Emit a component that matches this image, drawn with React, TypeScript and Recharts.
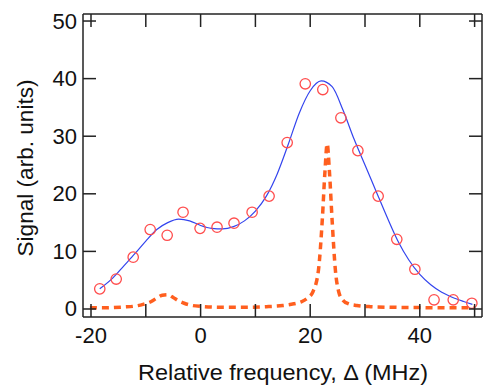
import React from 'react';
import { ComposedChart, Line, Scatter, XAxis, YAxis, Label } from 'recharts';

// measured signal (open circles)
const measX = [-18.4, -15.4, -12.3, -9.2, -6.1, -3.2, -0.1, 3.0, 6.1, 9.4, 12.5, 15.8, 19.1, 22.3, 25.6, 28.7, 32.4, 35.8, 39.1, 42.6, 46.1, 49.5];
const measY = [3.5, 5.2, 9.0, 13.8, 12.8, 16.8, 14.0, 14.2, 14.9, 16.8, 19.6, 28.9, 39.1, 38.1, 33.2, 27.5, 19.6, 12.1, 6.9, 1.6, 1.6, 1.0];

// fitted curve (solid blue)
const fitX = [-18.4, -16, -14, -12, -10, -8, -6, -4, -2, 0, 2, 4, 6, 8, 10, 12, 14, 16, 18, 20, 22, 24, 26, 28, 30, 32, 34, 36, 38, 40, 42, 44, 46, 48, 49.6];
const fitY = [3.5, 5.4, 7.5, 9.6, 11.8, 13.8, 15.0, 15.6, 15.3, 14.5, 14.0, 13.9, 14.3, 15.3, 17.0, 19.6, 23.5, 28.6, 34.0, 37.9, 39.6, 38.6, 34.5, 29.5, 25.0, 20.5, 16.0, 11.8, 8.5, 6.0, 4.2, 2.9, 2.0, 1.3, 0.8];

// narrow resonance (dashed orange)
const peakX = [-20.2, -18, -16, -14, -12, -10.5, -9, -8, -7, -6, -5, -4, -3, -2, 0, 4, 8, 12, 15, 17, 18.5, 19.5, 20.5, 21.5, 22.2, 22.7, 23.1, 23.5, 24.0, 24.6, 25.2, 26, 27, 28.5, 31, 35, 40, 45, 50];
const peakY = [0.2, 0.2, 0.25, 0.35, 0.5, 0.8, 1.3, 1.9, 2.4, 2.5, 2.0, 1.4, 1.0, 0.7, 0.45, 0.3, 0.3, 0.4, 0.6, 0.9, 1.3, 1.9, 3.0, 6.7, 15.4, 24, 28.7, 24, 15.4, 6.7, 3.0, 1.5, 0.9, 0.6, 0.4, 0.3, 0.25, 0.2, 0.2];

const xTicks = [-20, -10, 0, 10, 20, 30, 40, 50];
const xLabelled = [-20, 0, 20, 40];
const yTicks = [0, 10, 20, 30, 40, 50];

const meas = measX.map((x, i) => ({ x, y: measY[i] }));
const fit = fitX.map((x, i) => ({ x, y: fitY[i] }));
const peak = peakX.map((x, i) => ({ x, y: peakY[i] }));

const FONT = '"Liberation Sans", Arial, sans-serif';
const INK = '#222';
const TICK = 13;

function BottomTick({ x, y, payload }: any) {
  return (
    <g>
      <line x1={x} y1={y} x2={x} y2={y - TICK} stroke={INK} strokeWidth={1.5} />
      {xLabelled.includes(payload.value) && (
        <text x={x} y={y + 26} textAnchor="middle" fontSize={22} fontFamily={FONT} fill="#111">
          {payload.value}
        </text>
      )}
    </g>
  );
}

function TopTick({ x, y }: any) {
  return <line x1={x} y1={y} x2={x} y2={y + TICK} stroke={INK} strokeWidth={1.5} />;
}

function LeftTick({ x, y, payload }: any) {
  return (
    <g>
      <line x1={x} y1={y} x2={x + TICK} y2={y} stroke={INK} strokeWidth={1.5} />
      <text x={x - 6} y={y + 7.5} textAnchor="end" fontSize={22} fontFamily={FONT} fill="#111">
        {payload.value}
      </text>
    </g>
  );
}

function RightTick({ x, y }: any) {
  return <line x1={x} y1={y} x2={x - TICK} y2={y} stroke={INK} strokeWidth={1.5} />;
}

const ring = (props: any) => (
  <circle cx={props.cx} cy={props.cy} r={5.2} fill="none" stroke="#ff4d4d" strokeWidth={1.3} />
);

export default function App() {
  const xDomain = [-21.46, 51.35];
  const yDomain = [-1.39, 51.22];
  return (
    <div style={{ position: 'absolute', left: 0, top: 0, background: '#fff' }}>
      <ComposedChart width={483} height={387} margin={{ top: 13, right: 0, bottom: 0, left: 0 }}>
        <XAxis
          xAxisId="b"
          type="number"
          dataKey="x"
          domain={xDomain}
          allowDataOverflow
          ticks={xTicks}
          interval={0}
          height={70}
          tickSize={0}
          tickMargin={0}
          tick={<BottomTick />}
          axisLine={{ stroke: INK, strokeWidth: 1.5 }}
        >
          <Label
            content={() => (
              <text
                x={283}
                y={380}
                textAnchor="middle"
                fontSize={22}
                fontFamily={FONT}
                fill="#111"
                textLength={290}
                lengthAdjust="spacingAndGlyphs"
              >
                Relative frequency, Δ (MHz)
              </text>
            )}
          />
        </XAxis>
        <XAxis
          xAxisId="t"
          orientation="top"
          type="number"
          dataKey="x"
          domain={xDomain}
          allowDataOverflow
          ticks={xTicks}
          interval={0}
          height={1}
          tickSize={0}
          tickMargin={0}
          tick={<TopTick />}
          axisLine={{ stroke: INK, strokeWidth: 1.5 }}
        />
        <YAxis
          yAxisId="l"
          type="number"
          domain={yDomain}
          allowDataOverflow
          ticks={yTicks}
          interval={0}
          width={83}
          tickSize={0}
          tickMargin={0}
          tick={<LeftTick />}
          axisLine={{ stroke: INK, strokeWidth: 1.5 }}
        >
          <Label
            content={() => (
              <text
                x={33}
                y={168}
                textAnchor="middle"
                fontSize={22}
                fontFamily={FONT}
                fill="#111"
                textLength={177}
                lengthAdjust="spacingAndGlyphs"
                transform="rotate(-90, 33, 168)"
              >
                Signal (arb. units)
              </text>
            )}
          />
        </YAxis>
        <YAxis
          yAxisId="r"
          orientation="right"
          type="number"
          domain={yDomain}
          allowDataOverflow
          ticks={yTicks}
          interval={0}
          width={1}
          tickSize={0}
          tickMargin={0}
          tick={<RightTick />}
          axisLine={{ stroke: INK, strokeWidth: 1.5 }}
        />
        <Line
          xAxisId="b"
          yAxisId="l"
          data={peak}
          dataKey="y"
          type="monotone"
          stroke="#ff5f1f"
          strokeWidth={3.5}
          strokeDasharray="7 5"
          dot={false}
          activeDot={false}
          isAnimationActive={false}
        />
        <Line
          xAxisId="b"
          yAxisId="l"
          data={fit}
          dataKey="y"
          type="monotone"
          stroke="#3344ee"
          strokeWidth={1.2}
          dot={false}
          activeDot={false}
          isAnimationActive={false}
        />
        <Scatter
          xAxisId="b"
          yAxisId="l"
          data={meas}
          dataKey="y"
          shape={ring}
          isAnimationActive={false}
        />
      </ComposedChart>
    </div>
  );
}
